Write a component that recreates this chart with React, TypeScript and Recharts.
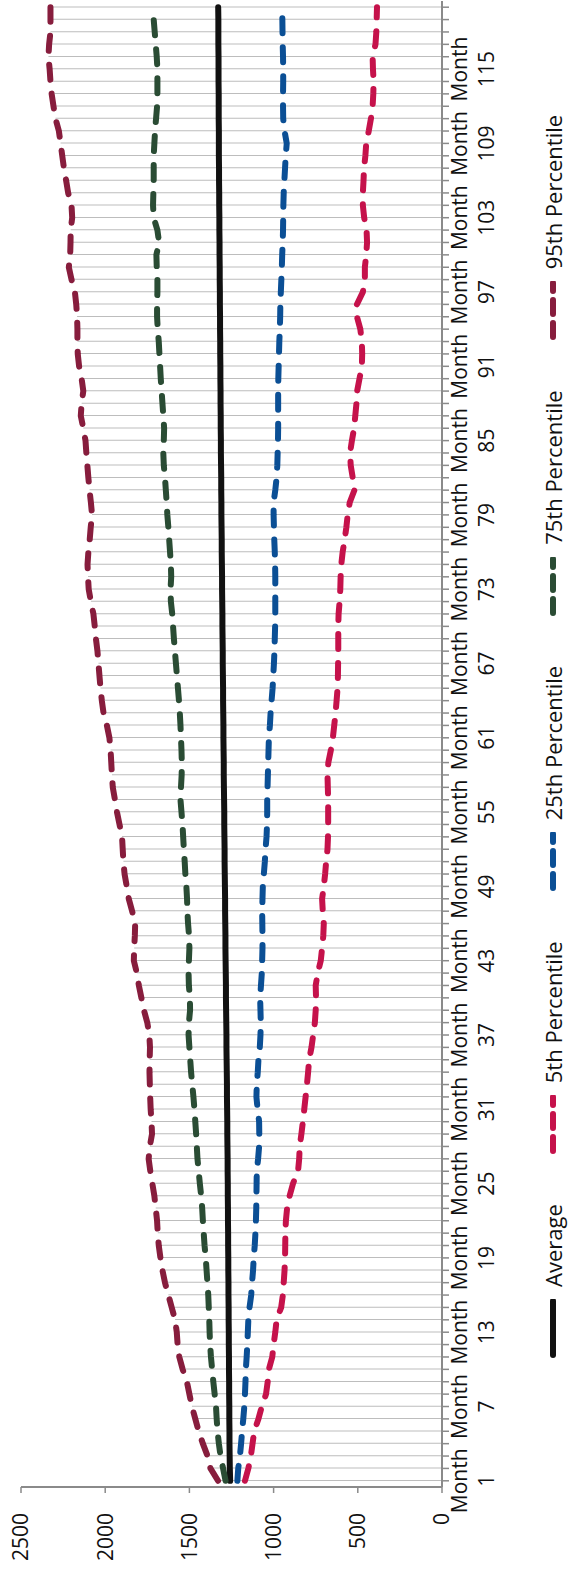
import { ComposedChart, Line, Bar, XAxis, YAxis } from 'recharts'

// months 1..120, category labels every 6th month
const MONTHS: number[] = Array.from({ length: 120 }, (_, i) => i + 1)
const VALUE_TICKS = [0, 500, 1000, 1500, 2000, 2500]

const AVERAGE = [
  1258, 1260, 1261, 1262, 1262, 1263, 1263, 1264, 1264, 1265,
  1265, 1266, 1266, 1267, 1267, 1268, 1268, 1269, 1269, 1270,
  1270, 1271, 1271, 1272, 1272, 1273, 1273, 1274, 1275, 1275,
  1276, 1277, 1277, 1278, 1279, 1280, 1280, 1281, 1282, 1283,
  1283, 1284, 1285, 1286, 1286, 1287, 1288, 1288, 1289, 1290,
  1291, 1291, 1292, 1293, 1293, 1294, 1295, 1296, 1296, 1297,
  1298, 1298, 1299, 1300, 1300, 1301, 1302, 1302, 1303, 1304,
  1304, 1305, 1306, 1306, 1307, 1308, 1308, 1309, 1310, 1310,
  1311, 1311, 1312, 1313, 1313, 1314, 1314, 1315, 1315, 1316,
  1316, 1317, 1317, 1318, 1318, 1319, 1319, 1320, 1320, 1321,
  1321, 1322, 1322, 1323, 1323, 1324, 1324, 1325, 1325, 1325,
  1326, 1326, 1326, 1327, 1327, 1327, 1328, 1328, 1328, 1329,
]

const P5 = [
  1170, 1150, 1135, 1125, 1115, 1090, 1070, 1045, 1035, 1028,
  1008, 1000, 990, 982, 955, 945, 940, 935, 932, 931,
  930, 927, 920, 905, 885, 855, 848, 845, 835, 826,
  818, 810, 802, 795, 789, 775, 765, 755, 750, 748,
  750, 738, 720, 712, 705, 702, 708, 712, 702, 694,
  688, 680, 677, 676, 676, 676, 678, 680, 675, 660,
  648, 640, 632, 626, 620, 618, 617, 616, 616, 616,
  614, 608, 604, 602, 598, 590, 578, 568, 560, 548,
  520, 530, 542, 546, 535, 522, 515, 508, 504, 490,
  476, 474, 476, 485, 505, 505, 470, 458, 458, 450,
  445, 448, 462, 470, 470, 466, 463, 455, 450, 435,
  422, 412, 408, 406, 410, 412, 395, 390, 388, 386,
]

const P25 = [
  1215, 1210, 1200, 1193, 1187, 1180, 1174, 1170, 1167, 1165,
  1160, 1156, 1153, 1150, 1143, 1133, 1128, 1122, 1118, 1112,
  1108, 1105, 1103, 1102, 1101, 1100, 1092, 1086, 1085, 1086,
  1095, 1102, 1100, 1094, 1090, 1082, 1078, 1076, 1078, 1080,
  1075, 1070, 1068, 1066, 1066, 1067, 1068, 1066, 1064, 1058,
  1052, 1048, 1042, 1039, 1038, 1038, 1036, 1034, 1032, 1030,
  1028, 1022, 1018, 1012, 1006, 1002, 998, 995, 993, 991,
  990, 990, 990, 990, 991, 993, 996, 998, 1000, 1000,
  990, 982, 978, 976, 974, 973, 973, 973, 973, 972,
  970, 968, 966, 963, 961, 960, 957, 954, 951, 949,
  946, 944, 943, 942, 940, 936, 932, 928, 922, 935,
  943, 944, 944, 943, 943, 944, 946, 947, 948, 949,
]

const P75 = [
  1285, 1300, 1315, 1325, 1333, 1338, 1342, 1350, 1358, 1365,
  1372, 1377, 1380, 1382, 1385, 1388, 1393, 1398, 1403, 1410,
  1415, 1420, 1424, 1430, 1438, 1445, 1452, 1456, 1460, 1465,
  1470, 1476, 1483, 1490, 1495, 1500, 1505, 1503, 1496, 1497,
  1503, 1505, 1503, 1500, 1502, 1508, 1512, 1514, 1518, 1524,
  1528, 1533, 1537, 1541, 1547, 1553, 1550, 1546, 1545, 1547,
  1550, 1553, 1557, 1562, 1568, 1574, 1580, 1586, 1592, 1597,
  1602, 1610, 1612, 1608, 1610, 1615, 1620, 1625, 1631, 1635,
  1640, 1645, 1652, 1655, 1652, 1650, 1655, 1660, 1665, 1670,
  1674, 1678, 1682, 1688, 1692, 1692, 1690, 1690, 1694, 1696,
  1680, 1690, 1712, 1716, 1714, 1712, 1712, 1712, 1708, 1704,
  1698, 1692, 1690, 1690, 1690, 1694, 1700, 1706, 1712, 1716,
]

const P95 = [
  1330, 1375, 1392, 1420, 1445, 1465, 1485, 1500, 1515, 1540,
  1560, 1570, 1575, 1585, 1605, 1625, 1645, 1660, 1672, 1682,
  1688, 1692, 1700, 1708, 1720, 1732, 1742, 1735, 1722, 1725,
  1730, 1733, 1735, 1737, 1736, 1734, 1738, 1750, 1770, 1785,
  1800, 1812, 1830, 1828, 1824, 1822, 1840, 1860, 1872, 1885,
  1892, 1896, 1900, 1915, 1930, 1942, 1955, 1960, 1964, 1968,
  1975, 1990, 2010, 2020, 2028, 2034, 2040, 2046, 2055, 2062,
  2070, 2085, 2098, 2102, 2105, 2100, 2092, 2086, 2078, 2085,
  2093, 2100, 2106, 2112, 2117, 2130, 2145, 2140, 2130, 2140,
  2155, 2163, 2165, 2165, 2167, 2172, 2180, 2200, 2216, 2208,
  2206, 2205, 2196, 2200, 2220, 2232, 2245, 2255, 2265, 2275,
  2295, 2307, 2318, 2325, 2330, 2337, 2333, 2325, 2325, 2325,
]

const SERIES = [
  { key: 'avg', name: 'Average', color: '#111111', dash: undefined as string | undefined },
  { key: 'p5', name: '5th Percentile', color: '#C5124B', dash: '15 14' },
  { key: 'p25', name: '25th Percentile', color: '#0B4F95', dash: '15 14' },
  { key: 'p75', name: '75th Percentile', color: '#2A4C34', dash: '15 14' },
  { key: 'p95', name: '95th Percentile', color: '#871D3D', dash: '15 14' },
]

const data = MONTHS.map((m, i) => ({
  label: `Month ${m}`,
  avg: AVERAGE[i],
  p5: P5[i],
  p25: P25[i],
  p75: P75[i],
  p95: P95[i],
}))

const FONT = '"Open Sans", sans-serif'
const W = 1569
const H = 573

function MonthTick(props: any) {
  const { x, y, index, payload } = props
  if (index % 6 !== 0) return null
  const num = String(payload.value).replace('Month ', '')
  return (
    <g>
      <text x={x} y={y + 18} textAnchor="middle" fontSize={21} fill="#111" fontFamily={FONT}>Month</text>
      <text x={x} y={y + 45} textAnchor="middle" fontSize={21} fill="#111" fontFamily={FONT}>{num}</text>
    </g>
  )
}

function LegendRow() {
  return (
    <div style={{
      position: 'absolute', left: 210, top: 538, display: 'flex', alignItems: 'center',
      gap: 49, fontFamily: FONT, fontSize: 22, color: '#111', whiteSpace: 'nowrap',
    }}>
      {SERIES.map(s => (
        <div key={s.key} style={{ display: 'flex', alignItems: 'center', gap: 12 }}>
          <svg width={60} height={14}>
            <line x1={4} y1={7} x2={58} y2={7} stroke={s.color} strokeWidth={6}
              strokeDasharray={s.dash ? '14 9' : undefined} strokeLinecap="round" />
          </svg>
          <span>{s.name}</span>
        </div>
      ))}
    </div>
  )
}

export default function App() {
  return (
    <div style={{ position: 'absolute', left: 0, top: 0, width: 573, height: 1569, overflow: 'hidden', background: '#fff' }}>
      {/* chart drawn landscape, then turned a quarter counter-clockwise */}
      <div style={{
        position: 'absolute', left: 0, top: W, width: W, height: H,
        transform: 'rotate(-90deg)', transformOrigin: '0 0',
      }}>
        <ComposedChart width={W} height={H} data={data} margin={{ top: 21, right: 1, left: 0, bottom: 71 }}>
          <XAxis
            dataKey="label"
            interval={0}
            height={60}
            tickSize={7}
            tickMargin={0}
            axisLine={{ stroke: '#8a8a8a', strokeWidth: 2 }}
            tickLine={{ stroke: '#8a8a8a', strokeWidth: 1.5 }}
            tick={<MonthTick />}
          />
          <YAxis
            type="number"
            domain={[0, 2500]}
            ticks={VALUE_TICKS}
            width={82}
            tickSize={6}
            tickMargin={20}
            axisLine={{ stroke: '#8a8a8a', strokeWidth: 2 }}
            tickLine={{ stroke: '#8a8a8a', strokeWidth: 1.5 }}
            tick={{ fontSize: 21, fill: '#111', fontFamily: FONT }}
          />
          {/* drop lines from the top series down to the axis */}
          <Bar dataKey="p95" barSize={1} fill="#bdbdbd" isAnimationActive={false} />
          {SERIES.map(s => (
            <Line
              key={s.key}
              type="linear"
              dataKey={s.key}
              stroke={s.color}
              strokeWidth={6}
              strokeDasharray={s.dash}
              strokeLinecap="round"
              dot={false}
              activeDot={false}
              isAnimationActive={false}
            />
          ))}
        </ComposedChart>
        <LegendRow />
      </div>
    </div>
  )
}
